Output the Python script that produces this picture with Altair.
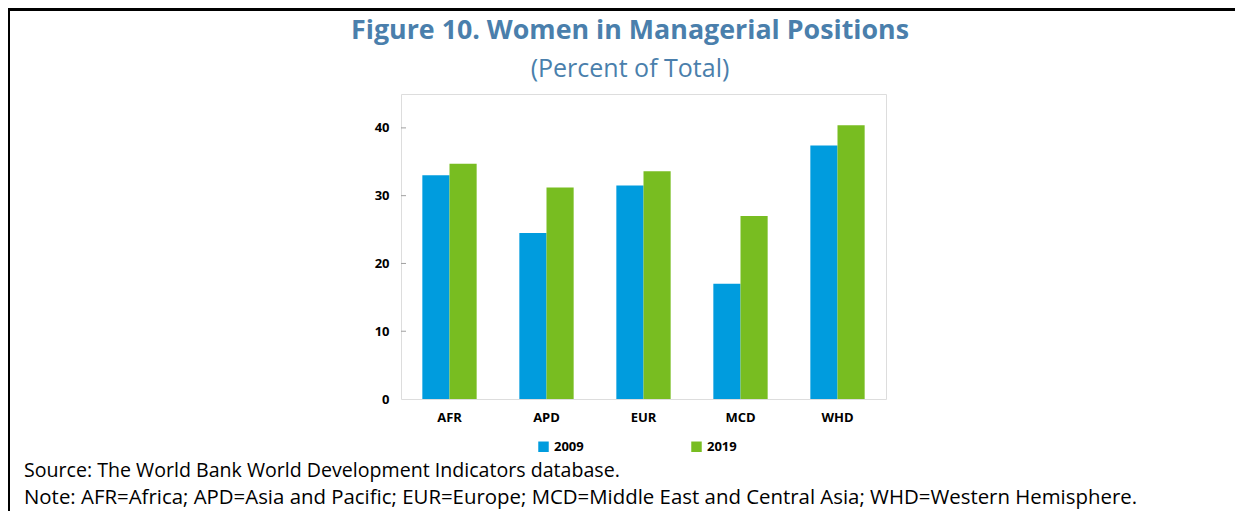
import altair as alt
import pandas as pd

regions = ["AFR", "APD", "EUR", "MCD", "WHD"]
years = ["2009", "2019"]
v2009 = [33.0, 24.5, 31.5, 17.0, 37.4]
v2019 = [34.7, 31.2, 33.6, 27.0, 40.4]
yticks = [0, 10, 20, 30, 40]

title_text = "Figure 10. Women in Managerial Positions"
subtitle_text = "(Percent of Total)"
source_text = "Source: The World Bank World Development Indicators database."
note_text = "Note: AFR=Africa; APD=Asia and Pacific; EUR=Europe; MCD=Middle East and Central Asia; WHD=Western Hemisphere."

rows = []
for i, r in enumerate(regions):
    rows.append({"region": r, "year": years[0], "value": v2009[i]})
    rows.append({"region": r, "year": years[1], "value": v2019[i]})
df = pd.DataFrame(rows)

W, H = 485, 305
FONT = "Open Sans"
TITLE_COLOR = "#4a7fac"

bars = alt.Chart(df).mark_bar().encode(
    x=alt.X("region:N", sort=regions, title=None,
            scale=alt.Scale(paddingInner=0.44, paddingOuter=0.22),
            axis=alt.Axis(labelAngle=0, labelFont=FONT, labelFontWeight="bold",
                          labelFontSize=13, labelColor="#000000", labelPadding=12,
                          ticks=False, domain=False)),
    xOffset=alt.XOffset("year:N", sort=years),
    y=alt.Y("value:Q", title=None,
            scale=alt.Scale(domain=[0, 45], nice=False),
            axis=alt.Axis(values=yticks, labelFont=FONT, labelFontWeight="bold",
                          labelFontSize=13, labelColor="#000000", labelPadding=12,
                          ticks=False, domain=False, grid=False)),
    color=alt.Color("year:N", sort=years,
                    scale=alt.Scale(domain=years, range=["#009cde", "#78bd21"]),
                    legend=alt.Legend(title=None, orient="none", legendX=136, legendY=346,
                                      direction="horizontal", symbolType="square",
                                      symbolSize=110, symbolStrokeWidth=0,
                                      labelFont=FONT, labelFontWeight="bold",
                                      labelFontSize=13, labelColor="#000000",
                                      columnPadding=106, labelOffset=4)),
)

tick_df = pd.DataFrame({"t": yticks[1:]})
yt = alt.Chart(tick_df).mark_rule(color="#a0a0a0", strokeWidth=1).encode(
    y="t:Q", x=alt.value(0), x2=alt.value(5)
)

def txt(text, x, y, size, weight="normal", color="#000000", align="left"):
    return alt.Chart(pd.DataFrame({"t": [text]})).mark_text(
        font=FONT, fontSize=size, fontWeight=weight, color=color,
        align=align, baseline="middle"
    ).encode(text="t:N", x=alt.value(x), y=alt.value(y))

title = txt(title_text, 229, -63, 26.8, "bold", TITLE_COLOR, "center")
subtitle = txt(subtitle_text, 229, -25, 25, "normal", TITLE_COLOR, "center")
source = txt(source_text, -377, 376.5, 19.6)
note = txt(note_text, -377, 404, 20.4)

border_top = alt.Chart(pd.DataFrame({"a": [0]})).mark_rule(color="#000000", strokeWidth=3).encode(
    x=alt.value(-393), x2=alt.value(870), y=alt.value(-84.5)
)
border_left = alt.Chart(pd.DataFrame({"a": [0]})).mark_rule(color="#000000", strokeWidth=3).encode(
    x=alt.value(-392.5), y=alt.value(-86), y2=alt.value(430)
)

chart = alt.layer(bars, yt, title, subtitle, source, note, border_top, border_left).properties(
    width=W, height=H,
    autosize=alt.AutoSizeParams(type="none"),
    padding={"left": 393, "top": 86, "right": 349, "bottom": 112},
).configure_view(stroke="#bdbdbd", strokeWidth=1.5).configure(background="#ffffff")

chart.save("out.html", embed_options={"renderer": "svg", "actions": False})
